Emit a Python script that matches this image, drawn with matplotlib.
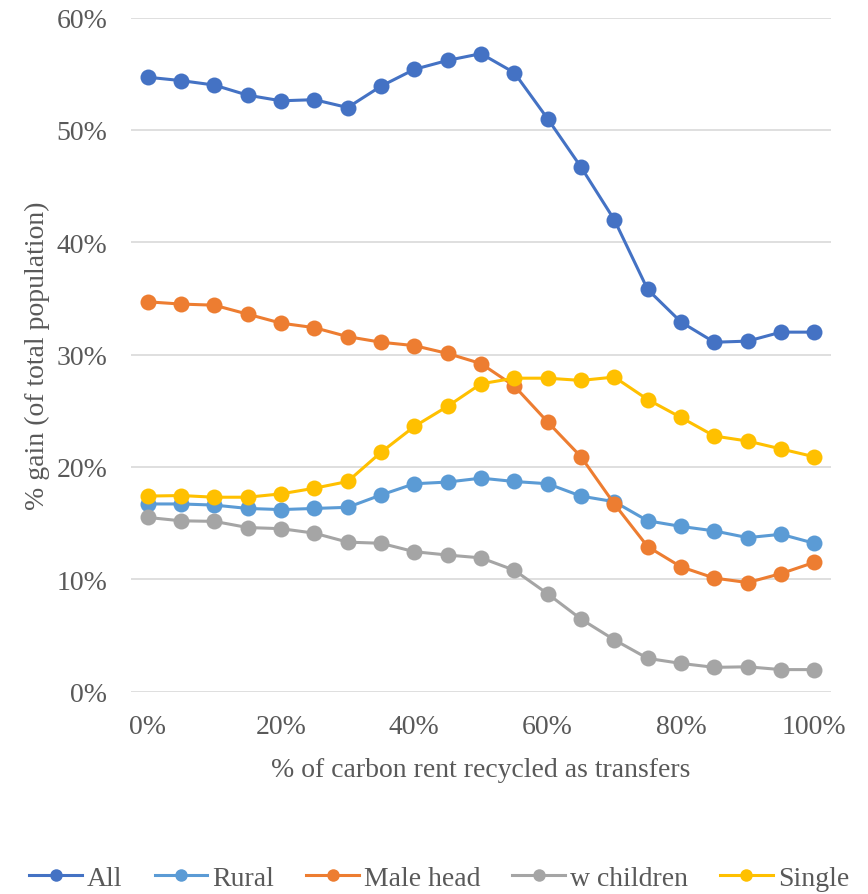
import matplotlib
matplotlib.use("Agg")
import matplotlib.pyplot as plt
from matplotlib.lines import Line2D
from matplotlib.ticker import FuncFormatter, MultipleLocator

x_pct = [0, 5, 10, 15, 20, 25, 30, 35, 40, 45, 50, 55, 60, 65, 70, 75, 80, 85, 90, 95, 100]

all_hh = [54.7, 54.4, 54.0, 53.1, 52.6, 52.7, 52.0, 53.9, 55.4, 56.2, 56.8, 55.1,
          51.0, 46.7, 42.0, 35.8, 32.9, 31.1, 31.2, 32.0, 32.0]
rural = [16.7, 16.7, 16.6, 16.3, 16.2, 16.3, 16.4, 17.5, 18.5, 18.65, 19.0, 18.7,
         18.5, 17.4, 16.9, 15.2, 14.7, 14.3, 13.7, 14.0, 13.2]
male_head = [34.7, 34.5, 34.4, 33.6, 32.8, 32.4, 31.6, 31.1, 30.8, 30.1, 29.2, 27.2,
             24.0, 20.9, 16.7, 12.9, 11.1, 10.1, 9.7, 10.5, 11.5]
w_children = [15.5, 15.2, 15.15, 14.6, 14.5, 14.1, 13.3, 13.2, 12.45, 12.15, 11.9, 10.8,
              8.7, 6.45, 4.6, 2.95, 2.5, 2.15, 2.2, 1.95, 1.95]
single = [17.4, 17.45, 17.3, 17.3, 17.6, 18.1, 18.7, 21.3, 23.6, 25.4, 27.4, 27.9,
          27.9, 27.7, 28.0, 26.0, 24.4, 22.75, 22.3, 21.6, 20.9]

series_names = ["All", "Rural", "Male head", "w children", "Single"]
series_values = [all_hh, rural, male_head, w_children, single]
colors = ["#4472C4", "#5B9BD5", "#ED7D31", "#A5A5A5", "#FFC000"]

plt.rcParams['font.family'] = ['Liberation Serif', 'DejaVu Serif']
FS = 20
TXT = '#595959'

fig = plt.figure(figsize=(8.68, 8.95), dpi=100)
ax = fig.add_axes([131/868, 1 - 692.5/895, 700/868, (692.5 - 18.7)/895])

for name, vals, c in zip(series_names, series_values, colors):
    ax.plot(x_pct, vals, color=c, lw=2.2, marker='o', markersize=11.5,
            markeredgewidth=0, label=name, clip_on=False)

ax.set_xlim(-2.5, 102.5)
ax.set_ylim(0, 60)
ax.yaxis.set_major_locator(MultipleLocator(10))
ax.xaxis.set_major_locator(MultipleLocator(20))
pct = FuncFormatter(lambda v, p: f"{v:.0f}%")
ax.xaxis.set_major_formatter(pct)
ax.yaxis.set_major_formatter(pct)

ax.grid(axis='y', color='#D9D9D9', lw=1.2)
ax.set_axisbelow(True)
for s in ax.spines.values():
    s.set_visible(False)
ax.tick_params(length=0, labelsize=FS, colors=TXT)
ax.tick_params(axis='y', pad=17)
ax.tick_params(axis='x', pad=16)

ax.set_xlabel("% of carbon rent recycled as transfers", fontsize=FS, color=TXT, labelpad=13)
ax.set_ylabel("% gain (of total population)", fontsize=FS, color=TXT, labelpad=5)

handles = [Line2D([0], [0], color=c, lw=2.2, marker='o', markersize=9, markeredgewidth=0)
           for c in colors]
fig.legend(handles, series_names, loc='center', bbox_to_anchor=(0.506, 1 - 879/895),
           ncol=5, frameon=False, fontsize=FS, labelcolor=TXT, handlelength=1.9,
           handletextpad=0.18, columnspacing=1.15, borderpad=0)

fig.savefig("out.png", dpi=100)
